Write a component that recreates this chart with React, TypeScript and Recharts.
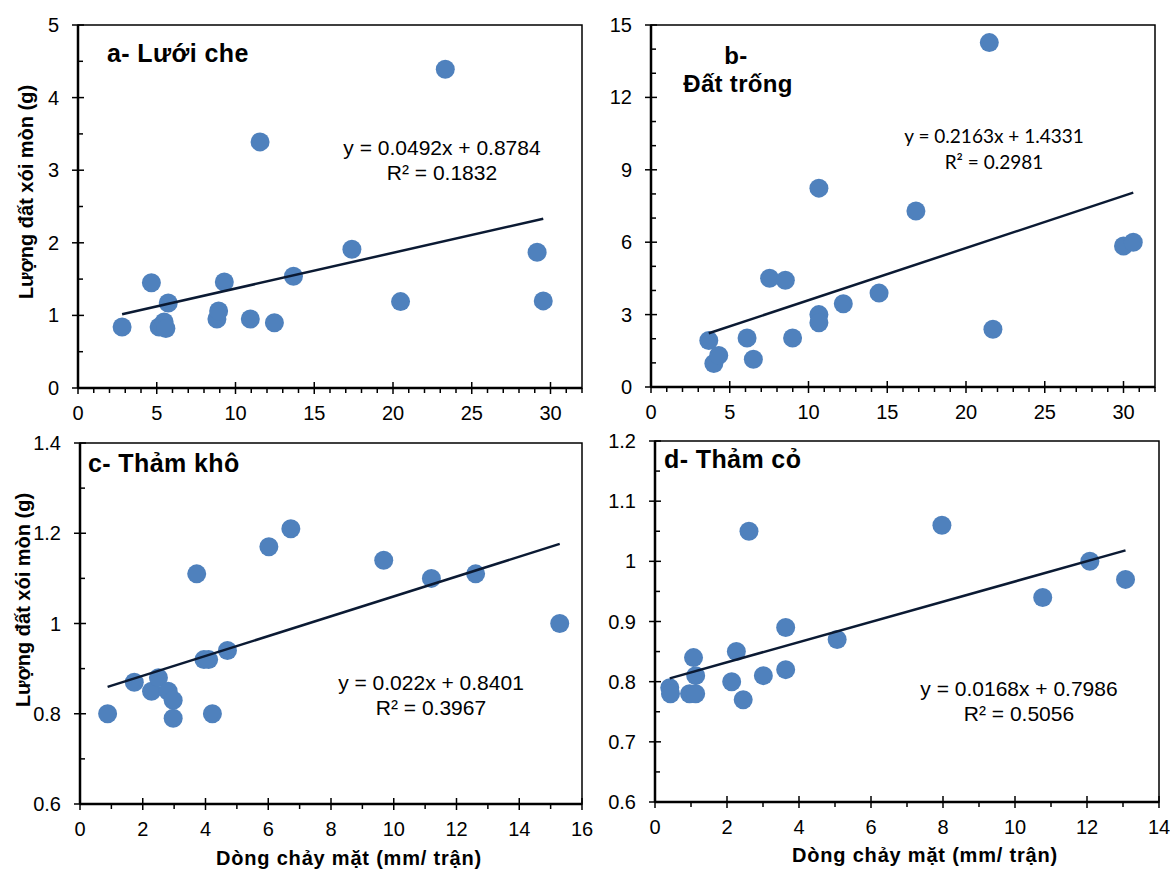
import React from 'react';
import { ScatterChart, Scatter, XAxis, YAxis, ReferenceArea } from 'recharts';

// ---------- data ----------
// a- Lưới che
const aX = [2.8, 4.66, 5.15, 5.47, 5.58, 5.73, 8.82, 8.93, 9.29, 10.94, 11.56, 12.47, 13.68, 17.39, 20.48, 23.32, 29.15, 29.54];
const aY = [0.84, 1.45, 0.84, 0.91, 0.82, 1.17, 0.95, 1.06, 1.46, 0.95, 3.39, 0.9, 1.54, 1.91, 1.19, 4.39, 1.87, 1.2];
// b- Đất trống
const bX = [3.67, 3.99, 4.3, 6.1, 6.5, 7.53, 8.53, 8.99, 10.66, 10.66, 10.66, 12.21, 14.48, 16.82, 21.48, 21.71, 30.0, 30.62];
const bY = [1.93, 0.97, 1.31, 2.03, 1.15, 4.51, 4.42, 2.03, 8.24, 3.0, 2.66, 3.45, 3.89, 7.29, 14.27, 2.39, 5.84, 6.0];
// c- Thảm khô
const cX = [0.88, 1.73, 2.28, 2.5, 2.81, 2.97, 2.97, 3.72, 3.95, 4.1, 4.22, 4.7, 6.02, 6.72, 9.68, 11.2, 12.61, 15.29];
const cY = [0.8, 0.87, 0.85, 0.88, 0.85, 0.83, 0.79, 1.11, 0.92, 0.92, 0.8, 0.94, 1.17, 1.21, 1.14, 1.1, 1.11, 1.0];
// d- Thảm cỏ
const dX = [0.41, 0.43, 0.96, 1.13, 1.07, 1.13, 2.13, 2.26, 2.45, 2.61, 3.01, 3.63, 3.63, 5.06, 7.97, 10.77, 12.08, 13.07];
const dY = [0.79, 0.78, 0.78, 0.78, 0.84, 0.81, 0.8, 0.85, 0.77, 1.05, 0.81, 0.89, 0.82, 0.87, 1.06, 0.94, 1.0, 0.97];

// regression coefficients (as printed on the chart)
const aFit = { slope: 0.0492, intercept: 0.8784 };
const bFit = { slope: 0.2163, intercept: 1.4331 };
const cFit = { slope: 0.022, intercept: 0.8401 };
const dFit = { slope: 0.0168, intercept: 0.7986 };

// labels
const titles = ['a- Lưới che', 'b-', 'Đất trống', 'c- Thảm khô', 'd- Thảm cỏ'];
const equations = ['y = 0.0492x + 0.8784', 'y = 0.2163x + 1.4331', 'y = 0.022x + 0.8401', 'y = 0.0168x + 0.7986'];
const r2 = ['R² = 0.1832', 'R² = 0.2981', 'R² = 0.3967', 'R² = 0.5056'];
const xTitle = 'Dòng chảy mặt (mm/ trận)';
const yTitle = 'Lượng đất xói mòn (g)';

// axes: [min, max, minor step, major step]
const aXAxis = [0, 32, 1, 5];
const aYAxis = [0, 5, 0.5, 1];
const bXAxis = [0, 32, 1, 5];
const bYAxis = [0, 15, 1, 3];
const cXAxis = [0, 16, 1, 2];
const cYAxis = [0.6, 1.4, 0.1, 0.2];
const dXAxis = [0, 14, 1, 2];
const dYAxis = [0.6, 1.2, 0.05, 0.1];

// ---------- helpers ----------
const FONT = '"Liberation Sans", Arial, sans-serif';
const zip = (xs: number[], ys: number[]) => xs.map((x, i) => ({ x, y: ys[i] }));
const makeTicks = (ax: number[]) => {
  const [min, max, step] = ax;
  const n = Math.round((max - min) / step);
  const out: number[] = [];
  for (let i = 0; i <= n; i++) out.push(Math.round((min + i * step) * 10000) / 10000);
  return out;
};
const isMajor = (v: number, ax: number[]) => {
  const r = (v - ax[0]) / ax[3];
  return Math.abs(r - Math.round(r)) < 1e-6;
};
const fmt = (v: number) => String(parseFloat(v.toFixed(2)));
const trend = (xs: number[], fit: { slope: number; intercept: number }) => {
  const lo = Math.min(...xs);
  const hi = Math.max(...xs);
  return [lo, hi].map((x) => ({ x, y: fit.slope * x + fit.intercept }));
};

const makeXTick = (ax: number[]) => (props: any) => {
  const { x, y, payload } = props;
  const v = payload.value as number;
  const maj = isMajor(v, ax);
  return (
    <g>
      <line x1={x} x2={x} y1={maj ? y - 6 : y} y2={maj ? y + 6 : y + 5} stroke="#000" strokeWidth={1.5} />
      {maj && (
        <text x={x} y={y + 25} textAnchor="middle" dominantBaseline="central" fontSize={20} fontFamily={FONT} fill="#000">
          {fmt(v)}
        </text>
      )}
    </g>
  );
};
const makeYTick = (ax: number[]) => (props: any) => {
  const { x, y, payload } = props;
  const v = payload.value as number;
  const maj = isMajor(v, ax);
  return (
    <g>
      <line x1={maj ? x - 6 : x} x2={maj ? x + 6 : x + 5} y1={y} y2={y} stroke="#000" strokeWidth={1.5} />
      {maj && (
        <text x={x - 19} y={y} textAnchor="end" dominantBaseline="central" fontSize={20} fontFamily={FONT} fill="#000">
          {fmt(v)}
        </text>
      )}
    </g>
  );
};

const Dot = (p: any) => <circle cx={p.cx} cy={p.cy} r={9.5} fill="#4F81BD" />;
const NoDot = () => <g />;

type PanelProps = {
  left: number; top: number; width: number; height: number;
  yW: number; xH: number; mTop: number; mRight: number;
  xAx: number[]; yAx: number[]; xs: number[]; ys: number[];
  fit: { slope: number; intercept: number };
};

function Panel(p: PanelProps) {
  const data = zip(p.xs, p.ys);
  const line = trend(p.xs, p.fit);
  return (
    <div style={{ position: 'absolute', left: p.left, top: p.top, width: p.width, height: p.height }}>
      <ScatterChart width={p.width} height={p.height} margin={{ top: p.mTop, right: p.mRight, bottom: 0, left: 0 }}>
        <XAxis
          type="number" dataKey="x" domain={[p.xAx[0], p.xAx[1]]} ticks={makeTicks(p.xAx)} interval={0}
          tick={makeXTick(p.xAx)} tickSize={0} tickMargin={0} tickLine={false} height={p.xH}
          axisLine={{ stroke: '#000', strokeWidth: 2.5 }} allowDataOverflow
        />
        <YAxis
          type="number" dataKey="y" domain={[p.yAx[0], p.yAx[1]]} ticks={makeTicks(p.yAx)} interval={0}
          tick={makeYTick(p.yAx)} tickSize={0} tickMargin={0} tickLine={false} width={p.yW}
          axisLine={{ stroke: '#000', strokeWidth: 2.5 }} allowDataOverflow
        />
        <ReferenceArea
          x1={p.xAx[0]} x2={p.xAx[1]} y1={p.yAx[0]} y2={p.yAx[1]}
          fill="none" fillOpacity={0} stroke="#000" strokeWidth={1.5} ifOverflow="visible"
        />
        <Scatter data={data} shape={Dot} isAnimationActive={false} />
        <Scatter data={line} shape={NoDot} line={{ stroke: '#0B1A33', strokeWidth: 2.5 }} isAnimationActive={false} />
      </ScatterChart>
    </div>
  );
}

const T = (props: any) => <text fontFamily={FONT} fill="#000" dominantBaseline="central" {...props} />;

export default function App() {
  return (
    <div style={{ position: 'absolute', left: 0, top: 0, width: 1170, height: 869, background: '#fff', overflow: 'hidden' }}>
      <Panel left={0} top={0} width={600} height={430} yW={78} xH={42} mTop={25} mRight={18} xAx={aXAxis} yAx={aYAxis} xs={aX} ys={aY} fit={aFit} />
      <Panel left={600} top={0} width={570} height={430} yW={51} xH={43} mTop={25} mRight={15} xAx={bXAxis} yAx={bYAxis} xs={bX} ys={bY} fit={bFit} />
      <Panel left={0} top={430} width={600} height={439} yW={80} xH={65} mTop={13} mRight={18} xAx={cXAxis} yAx={cYAxis} xs={cX} ys={cY} fit={cFit} />
      <Panel left={600} top={430} width={570} height={439} yW={55} xH={67} mTop={11} mRight={11} xAx={dXAxis} yAx={dYAxis} xs={dX} ys={dY} fit={dFit} />
      <svg width={1170} height={869} style={{ position: 'absolute', left: 0, top: 0, pointerEvents: 'none' }}>
        {/* panel titles */}
        <T x={107} y={53} fontSize={25} fontWeight="bold" letterSpacing={0.4}>{titles[0]}</T>
        <T x={736} y={55} fontSize={24} fontWeight="bold" letterSpacing={0.3} textAnchor="middle">{titles[1]}</T>
        <T x={738} y={83} fontSize={24} fontWeight="bold" letterSpacing={0.3} textAnchor="middle">{titles[2]}</T>
        <T x={88} y={463} fontSize={25} fontWeight="bold" letterSpacing={0.4}>{titles[3]}</T>
        <T x={664} y={459} fontSize={25} fontWeight="bold" letterSpacing={0.4}>{titles[4]}</T>
        {/* equations */}
        <T x={442} y={147} fontSize={21} textAnchor="middle">{equations[0]}</T>
        <T x={442} y={172} fontSize={21} textAnchor="middle">{r2[0]}</T>
        <T x={994} y={135} fontSize={19} textAnchor="middle" fontFamily="Lato, sans-serif">{equations[1]}</T>
        <T x={994} y={161} fontSize={19} textAnchor="middle" fontFamily="Lato, sans-serif">{r2[1]}</T>
        <T x={431} y={682} fontSize={21} textAnchor="middle">{equations[2]}</T>
        <T x={431} y={707} fontSize={21} textAnchor="middle">{r2[2]}</T>
        <T x={1019} y={688} fontSize={21} textAnchor="middle">{equations[3]}</T>
        <T x={1019} y={713} fontSize={21} textAnchor="middle">{r2[3]}</T>
        {/* axis titles */}
        <T x={349} y={858} fontSize={20} fontWeight="bold" letterSpacing={0.8} textAnchor="middle">{xTitle}</T>
        <T x={925} y={855} fontSize={20} fontWeight="bold" letterSpacing={0.8} textAnchor="middle">{xTitle}</T>
        <T x={0} y={0} fontSize={20} fontWeight="bold" textAnchor="middle" transform="translate(26,192) rotate(-90)">{yTitle}</T>
        <T x={0} y={0} fontSize={20} fontWeight="bold" textAnchor="middle" transform="translate(23,600) rotate(-90)">{yTitle}</T>
      </svg>
    </div>
  );
}
